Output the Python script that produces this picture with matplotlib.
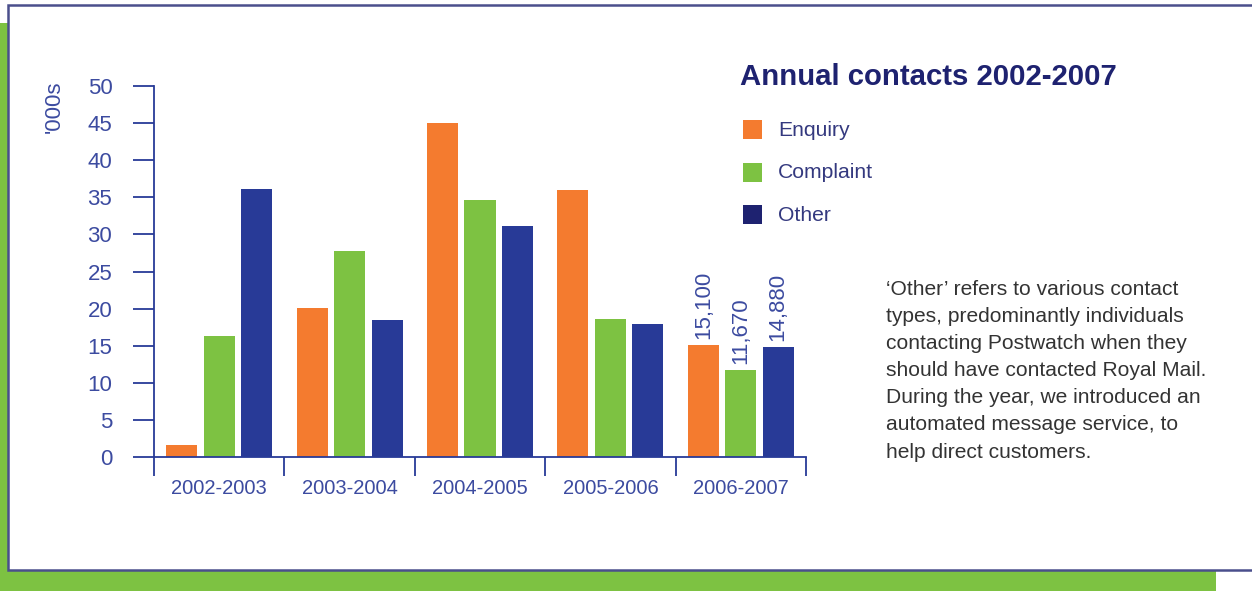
import matplotlib
matplotlib.use("Agg")
import matplotlib.pyplot as plt
from matplotlib.patches import Rectangle
import numpy as np

# contacts per year, in thousands
years = ["2002-2003", "2003-2004", "2004-2005", "2005-2006", "2006-2007"]
enquiry = [1.6, 20.1, 45.0, 36.0, 15.1]
complaint = [16.3, 27.8, 34.6, 18.6, 11.67]
other = [36.1, 18.5, 31.1, 17.9, 14.88]
series_names = ["Enquiry", "Complaint", "Other"]
# bar labels shown on the last year only
last_labels = ["15,100", "11,670", "14,880"]
y_ticks = [0, 5, 10, 15, 20, 25, 30, 35, 40, 45, 50]

ORANGE = "#F47B2F"
GREEN = "#7DC242"
NAVY = "#283A97"
TEXT_BLUE = "#3C4BA0"
TITLE_NAVY = "#1E2270"
LEGEND_TEXT = "#34397F"
FRAME = "#4A4F8C"

plt.rcParams["font.family"] = ["Liberation Sans", "DejaVu Sans"]

W, H = 1252, 591
fig = plt.figure(figsize=(W / 100, H / 100), dpi=100)
fig.patch.set_facecolor("white")


def px_rect(x0, y0, x1, y1, **kw):
    # rectangle given in pixel coordinates measured from the top-left
    return Rectangle((x0 / W, 1 - y1 / H), (x1 - x0) / W, (y1 - y0) / H,
                     transform=fig.transFigure, **kw)


# green backing strips and the white panel with its frame
fig.patches.append(px_rect(0, 23, 9, H, facecolor=GREEN, edgecolor="none", zorder=0))
fig.patches.append(px_rect(0, 569, 1216, H, facecolor=GREEN, edgecolor="none", zorder=0))
fig.patches.append(px_rect(8, 5, W + 10, 570, facecolor="white", edgecolor=FRAME,
                           linewidth=1.8, zorder=1))

ax = fig.add_axes([154 / W, 1 - 457 / H, 652 / W, 371 / H])
ax.set_zorder(2)
ax.patch.set_alpha(0)

x = np.arange(len(years))
bw = 0.238
step = 0.287
colors = [ORANGE, GREEN, NAVY]
for i, (vals, c) in enumerate(zip([enquiry, complaint, other], colors)):
    ax.bar(x + (i - 1) * step, vals, width=bw, color=c, edgecolor="none")
    ax.text(x[-1] + (i - 1) * step, vals[-1] + 0.8, last_labels[i], rotation=90,
            ha="center", va="bottom", fontsize=16, color=TEXT_BLUE)

ax.set_xlim(-0.5, len(years) - 0.5)
ax.set_ylim(0, 50)

for side in ["top", "right"]:
    ax.spines[side].set_visible(False)
for side in ["left", "bottom"]:
    ax.spines[side].set_color(NAVY)
    ax.spines[side].set_linewidth(1.3)

ax.set_yticks(y_ticks)
ax.tick_params(axis="y", direction="out", length=15, width=1.3, color=NAVY,
               labelsize=16, labelcolor=TEXT_BLUE, pad=15)

# group separators below the axis, labels centred in between
ax.set_xticks(np.arange(len(years) + 1) - 0.5)
ax.set_xticklabels([])
ax.set_xticks(x, minor=True)
ax.set_xticklabels(years, minor=True)
ax.tick_params(axis="x", which="major", direction="out", length=14, width=1.3, color=NAVY)
ax.tick_params(axis="x", which="minor", length=0, labelsize=14.5,
               labelcolor=TEXT_BLUE, pad=16)

fig.text(54 / W, 1 - 107 / H, "'000s", rotation=90, ha="center", va="center",
         fontsize=16, color=TEXT_BLUE)

# title and legend
fig.text(740 / W, 1 - 77 / H, "Annual contacts 2002-2007", ha="left", va="center",
         fontsize=21.2, fontweight="bold", color=TITLE_NAVY)
legend_colors = [ORANGE, GREEN, TITLE_NAVY]
for i, (name, c) in enumerate(zip(series_names, legend_colors)):
    yc = 129.5 + i * 42.5
    fig.patches.append(px_rect(743, yc - 9.5, 762, yc + 9.5, facecolor=c,
                               edgecolor="none", zorder=3))
    fig.text(778 / W, 1 - (yc + 1) / H, name, ha="left", va="center",
             fontsize=15.2, color=LEGEND_TEXT)

note = ("\u2018Other\u2019 refers to various contact\n"
        "types, predominantly individuals\n"
        "contacting Postwatch when they\n"
        "should have contacted Royal Mail.\n"
        "During the year, we introduced an\n"
        "automated message service, to\n"
        "help direct customers.")
fig.text(886 / W, 1 - 280 / H, note, ha="left", va="top", fontsize=15.1,
         color="#333333", linespacing=1.54)

fig.savefig("out.png", dpi=100, facecolor=fig.get_facecolor())
